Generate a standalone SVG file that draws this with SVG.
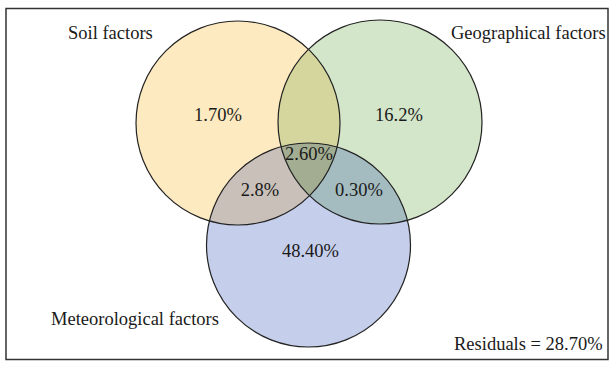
<svg xmlns="http://www.w3.org/2000/svg" width="613" height="372" viewBox="0 0 613 372">
<style>
text{font-family:"Liberation Serif","Times New Roman",serif;font-size:18.5px;fill:#1a1a1a}
.n{text-anchor:middle}
.ring{fill:none;stroke:#222;stroke-width:1.2}
</style>
<defs>
<clipPath id="cS"><circle cx="238" cy="123" r="102"/></clipPath>
<clipPath id="cG"><circle cx="380" cy="122" r="102"/></clipPath>
<clipPath id="cM"><circle cx="308.5" cy="245" r="102"/></clipPath>
</defs>
<rect x="6" y="8.5" width="602" height="351" fill="#fff" stroke="#333" stroke-width="1.5"/>
<g id="fills">
<circle cx="238" cy="123" r="102" fill="#FDEAC0"/>
<circle cx="380" cy="122" r="102" fill="#D4E6C9"/>
<circle cx="308.5" cy="245" r="102" fill="#C5CEEA"/>
<g clip-path="url(#cS)"><circle cx="380" cy="122" r="102" fill="#D4D69E"/><circle cx="308.5" cy="245" r="102" fill="#C8C0B9"/></g>
<g clip-path="url(#cG)"><circle cx="308.5" cy="245" r="102" fill="#A4BCC0"/></g>
<g clip-path="url(#cS)"><g clip-path="url(#cG)"><circle cx="308.5" cy="245" r="102" fill="#A3AD92"/></g></g>
</g>
<g id="soil"><circle class="ring" cx="238" cy="123" r="102"/><text x="68" y="39">Soil factors</text><text class="n" x="218" y="121">1.70%</text></g>
<g id="geo"><circle class="ring" cx="380" cy="122" r="102"/><text x="451" y="39">Geographical factors</text><text class="n" x="399" y="121">16.2%</text></g>
<g id="met"><circle class="ring" cx="308.5" cy="245" r="102"/><text x="51" y="325">Meteorological factors</text><text class="n" x="310.5" y="257">48.40%</text></g>
<g id="overlaps"><text class="n" x="309" y="160">2.60%</text><text class="n" x="260" y="196">2.8%</text><text class="n" x="359" y="196">0.30%</text></g>
<g id="residuals"><text x="454" y="350">Residuals = 28.70%</text></g>
<g id="connectors"/>
</svg>
